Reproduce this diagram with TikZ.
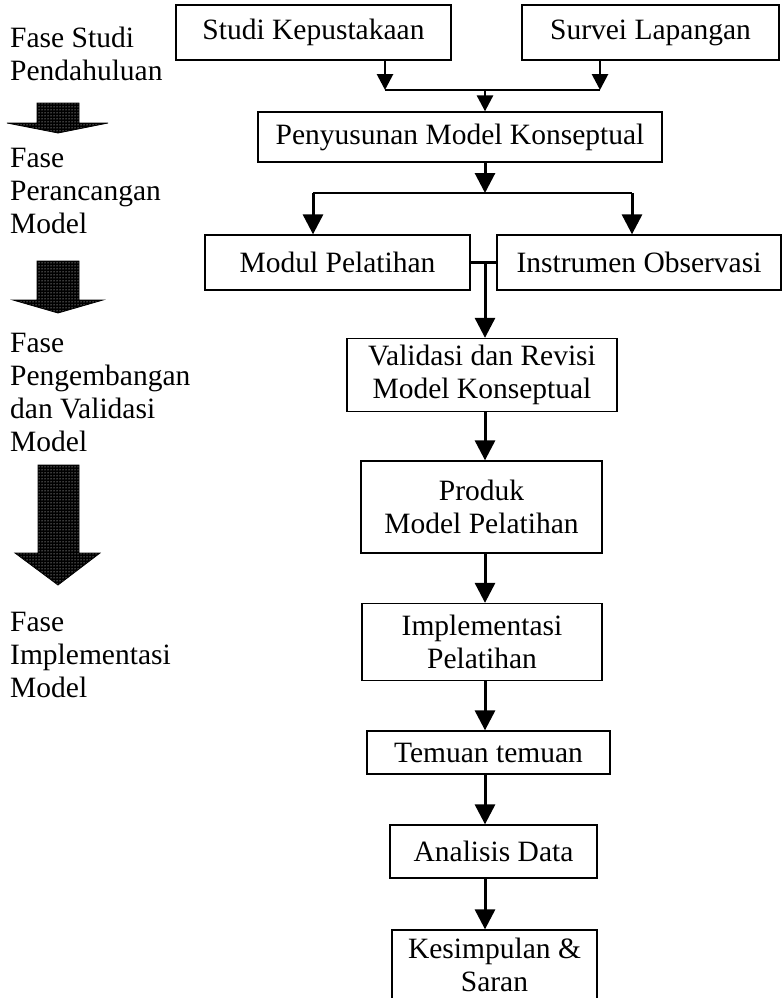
\documentclass[tikz,border=0pt]{standalone}
\usepackage{fontspec}
\setmainfont{Liberation Serif}
\usetikzlibrary{arrows.meta,patterns}

\begin{document}
\begin{tikzpicture}[x=1pt,y=-1pt,
  kotak/.style={draw,line width=1.3pt,inner sep=0pt,align=center,font=\fontsize{29.5}{33}\selectfont},
  fase/.style={anchor=north west,inner sep=0pt,align=left,font=\fontsize{29.5}{33}\selectfont},
  panah/.style={line width=3pt,-{Triangle[width=20pt,length=20pt]}},
  panahkecil/.style={line width=2.8pt,-{Triangle[width=16pt,length=16pt]}},
  garis/.style={line width=2.8pt},
  blok/.style={draw=black,line width=0.8pt,preaction={fill=black},pattern=dots,pattern color=white}]
\useasboundingbox (0,0) rectangle (783,998);

% tahapan di kiri
\node[fase] (f1) at (10,27) {Fase Studi\\Pendahuluan};
\node[fase] (f2) at (10,148) {Fase\\Perancangan\\Model};
\node[fase] (f3) at (10,333) {Fase\\Pengembangan\\dan Validasi\\Model};
\node[fase] (f4) at (10,612) {Fase\\Implementasi\\Model};
\filldraw[blok] (37,103) -- (79,103) -- (79,123) -- (108,123) -- (58,133) -- (7,123) -- (37,123) -- cycle;
\filldraw[blok] (37,261) -- (79,261) -- (79,300) -- (103,300) -- (58,313) -- (13,300) -- (37,300) -- cycle;
\filldraw[blok] (38,465) -- (79,465) -- (79,553) -- (100,553) -- (58,585) -- (15,553) -- (38,553) -- cycle;

% kotak alur
\node[kotak,minimum width=275pt,minimum height=55pt] (studi) at (313.5,32.5) {Studi Kepustakaan};
\node[kotak,minimum width=257pt,minimum height=55pt] (survei) at (650.5,32.5) {Survei Lapangan};
\node[kotak,minimum width=404pt,minimum height=50pt] (penyusunan) at (460,137) {Penyusunan Model Konseptual};
\node[kotak,minimum width=265pt,minimum height=55pt] (modul) at (337.5,262.5) {Modul Pelatihan};
\node[kotak,minimum width=284pt,minimum height=55pt] (instrumen) at (639,262.5) {Instrumen Observasi};
\node[kotak,minimum width=270pt,minimum height=73pt] (validasi) at (482,375) {Validasi dan Revisi\\Model Konseptual};
\node[kotak,minimum width=241pt,minimum height=92pt] (produk) at (481.5,507) {Produk\\Model Pelatihan};
\node[kotak,minimum width=240pt,minimum height=77pt] (implementasi) at (482,642) {Implementasi\\Pelatihan};
\node[kotak,minimum width=243pt,minimum height=43pt] (temuan) at (488.5,752.5) {Temuan temuan};
\node[kotak,minimum width=207pt,minimum height=53pt] (analisis) at (493.5,851.5) {Analisis Data};
\node[kotak,minimum width=205pt,minimum height=70pt] (kesimpulan) at (494.5,965) {Kesimpulan \&\\Saran};

% titik cabang
\coordinate (sumbu) at (485,0);
\coordinate (ka) at (385,90);
\coordinate (kb) at (600,90);
\coordinate (kc) at (485,90);
\coordinate (ca) at (313,193);
\coordinate (cb) at (632,193);
\coordinate (cc) at (485,193);

% panah
\draw[panahkecil] (studi.south -| ka) -- (ka);
\draw[panahkecil] (survei.south -| kb) -- (kb);
\draw[garis] (ka) -- (kb);
\draw[panahkecil] (kc) -- (penyusunan.north -| kc);
\draw[panah] (penyusunan.south -| cc) -- (cc);
\draw[garis] (ca) -- (cb);
\draw[panah] (ca) -- (modul.north -| ca);
\draw[panah] (cb) -- (instrumen.north -| cb);
\draw[garis] (modul.east) -- (instrumen.west);
\draw[panah] (modul.east -| sumbu) -- (validasi.north -| sumbu);
\draw[panah] (validasi.south -| sumbu) -- (produk.north -| sumbu);
\draw[panah] (produk.south -| sumbu) -- (implementasi.north -| sumbu);
\draw[panah] (implementasi.south -| sumbu) -- (temuan.north -| sumbu);
\draw[panah] (temuan.south -| sumbu) -- (analisis.north -| sumbu);
\draw[panah] (analisis.south -| sumbu) -- (kesimpulan.north -| sumbu);
\end{tikzpicture}
\end{document}
